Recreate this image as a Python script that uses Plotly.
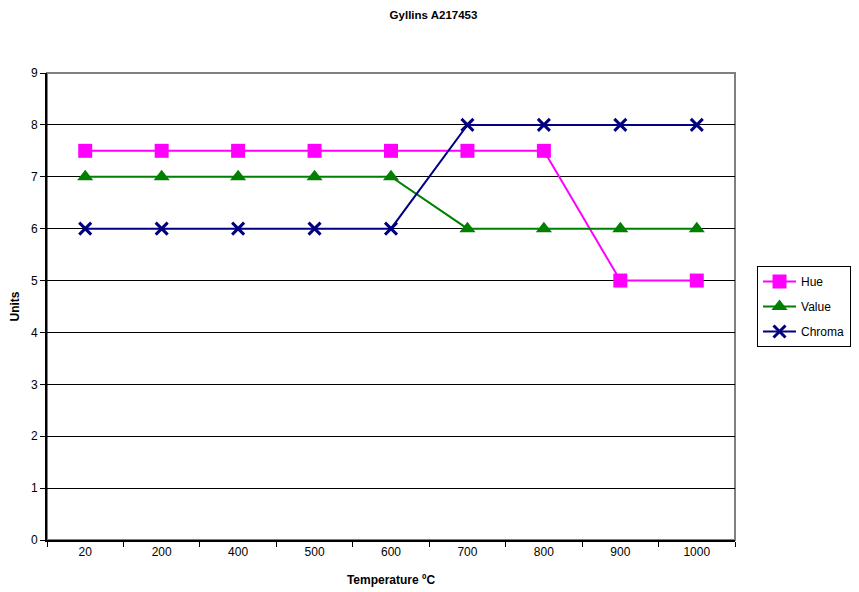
import plotly.graph_objects as go

categories = ["20", "200", "400", "500", "600", "700", "800", "900", "1000"]
hue = [7.5, 7.5, 7.5, 7.5, 7.5, 7.5, 7.5, 5, 5]
value = [7, 7, 7, 7, 7, 6, 6, 6, 6]
chroma = [6, 6, 6, 6, 6, 8, 8, 8, 8]

fig = go.Figure()
fig.add_trace(go.Scatter(x=categories, y=hue, name="Hue", mode="lines+markers",
                         legendgroup="g1",
                         line=dict(color="#FF00FF", width=2),
                         marker=dict(symbol="square", size=14, color="#FF00FF")))
fig.add_trace(go.Scatter(x=categories, y=value, name="Value", mode="lines+markers",
                         legendgroup="g2",
                         line=dict(color="#008000", width=2),
                         marker=dict(symbol="triangle-up", size=14, color="#008000")))
fig.add_trace(go.Scatter(x=categories, y=chroma, name="Chroma", mode="lines+markers",
                         legendgroup="g3",
                         line=dict(color="#000080", width=2),
                         marker=dict(symbol="x-thin", size=12, color="#000080",
                                     line=dict(color="#000080", width=3))))

# plot border (gray top/right)
fig.add_shape(type="rect", xref="paper", yref="paper", x0=0, x1=1, y0=0, y1=1,
              line=dict(color="#808080", width=2), layer="below")

fig.update_layout(
    width=851, height=584,
    margin=dict(l=39, r=124, t=65, b=52, autoexpand=False),
    paper_bgcolor="white", plot_bgcolor="white",
    font=dict(family="Liberation Sans, Arial, sans-serif", size=12, color="black"),
    title=dict(text="<b>Gyllins A217453</b>", x=0.5, xanchor="center", y=0.988,
               yanchor="middle", font=dict(size=11.5)),
    showlegend=True,
    legend=dict(x=1.032, xanchor="left", y=0.5, yanchor="middle",
                bordercolor="black", borderwidth=1, bgcolor="white",
                font=dict(size=12), itemwidth=33, tracegroupgap=6),
)
fig.update_xaxes(type="category", range=[-0.5, 8.5], showgrid=False,
                 showline=True, linecolor="black", linewidth=2,
                 ticks="outside", ticklen=5, tickcolor="black", tickson="boundaries",
                 title=dict(text="<b>Temperature ºC</b>", font=dict(size=12), standoff=17),
                 tickfont=dict(size=12), zeroline=False, automargin=False)
fig.update_yaxes(range=[0, 9], dtick=1, showgrid=True, gridcolor="black", gridwidth=1,
                 showline=True, linecolor="black", linewidth=2,
                 ticks="outside", ticklen=5, tickcolor="black",
                 title=dict(text="<b>Units</b>", font=dict(size=12), standoff=14),
                 tickfont=dict(size=12), zeroline=False, automargin=False)

fig.write_html("out.html")
